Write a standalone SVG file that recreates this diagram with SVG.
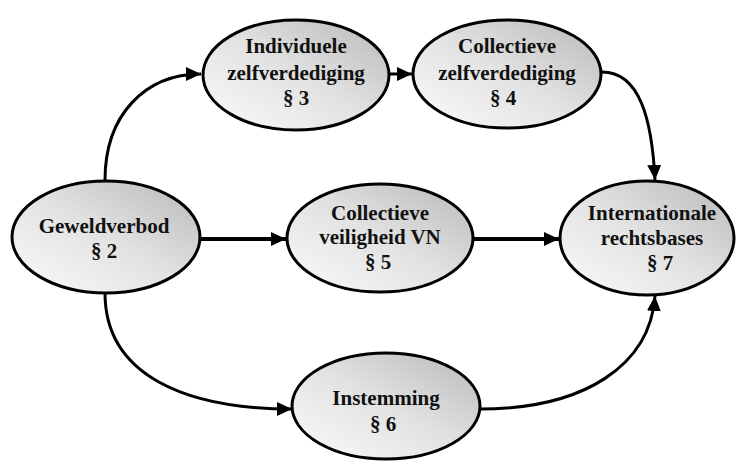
<svg xmlns="http://www.w3.org/2000/svg" width="739" height="465" viewBox="0 0 739 465">
  <style>
    .node ellipse { fill: url(#nodeFill); stroke: #000; stroke-width: 3; }
    .node text { font-family: "Liberation Serif", "DejaVu Serif", serif; font-weight: bold; font-size: 21px; fill: #111; text-anchor: middle; }
    .edge { fill: none; stroke: #000; stroke-width: 3; }
    .edge.thick { stroke-width: 4; }
  </style>
  <defs>
    <linearGradient id="nodeFill" x1="0" y1="1" x2="1" y2="0">
      <stop offset="0" stop-color="#fbfbfb"/>
      <stop offset="0.5" stop-color="#e2e2e2"/>
      <stop offset="1" stop-color="#b8b8b8"/>
    </linearGradient>
    <marker id="arrow" markerUnits="userSpaceOnUse" markerWidth="16" markerHeight="16" viewBox="0 0 16 16" refX="15" refY="8" orient="auto">
      <path d="M0,1 L15,8 L0,15 Z" fill="#000"/>
    </marker>
  </defs>

  <g id="connectors">
    <path class="edge" d="M105,180 C105,115 145,74 201,74" marker-end="url(#arrow)"/>
    <path class="edge" d="M390,74 L412,74" marker-end="url(#arrow)"/>
    <path class="edge" d="M602,72 C640,72 652,120 655,180" marker-end="url(#arrow)"/>
    <path class="edge thick" d="M200,239 L286,239" marker-end="url(#arrow)"/>
    <path class="edge thick" d="M473,239 L559,239" marker-end="url(#arrow)"/>
    <path class="edge" d="M105,293 C105,375 185,409 292,409" marker-end="url(#arrow)"/>
    <path class="edge" d="M480,409 C585,409 650,365 655,296" marker-end="url(#arrow)"/>
  </g>

  <g id="geweldverbod" class="node">
    <ellipse cx="106" cy="237" rx="94" ry="56"/>
    <text x="104" y="233">Geweldverbod</text>
    <text x="104" y="258">§ 2</text>
  </g>

  <g id="individuele-zelfverdediging" class="node">
    <ellipse cx="296" cy="75" rx="93" ry="55"/>
    <text x="296" y="53">Individuele</text>
    <text x="296" y="80">zelfverdediging</text>
    <text x="296" y="105">§ 3</text>
  </g>

  <g id="collectieve-zelfverdediging" class="node">
    <ellipse cx="507" cy="74" rx="94" ry="54"/>
    <text x="507" y="53">Collectieve</text>
    <text x="507" y="80">zelfverdediging</text>
    <text x="503" y="105">§ 4</text>
  </g>

  <g id="collectieve-veiligheid" class="node">
    <ellipse cx="380" cy="238" rx="93" ry="54"/>
    <text x="380" y="220">Collectieve</text>
    <text x="380" y="244">veiligheid VN</text>
    <text x="378" y="269">§ 5</text>
  </g>

  <g id="internationale-rechtsbases" class="node">
    <ellipse cx="647" cy="238" rx="87" ry="57"/>
    <text x="652" y="220">Internationale</text>
    <text x="652" y="245">rechtsbases</text>
    <text x="660" y="270">§ 7</text>
  </g>

  <g id="instemming" class="node">
    <ellipse cx="386" cy="406" rx="94" ry="53"/>
    <text x="386" y="405">Instemming</text>
    <text x="383" y="431">§ 6</text>
  </g>
</svg>
